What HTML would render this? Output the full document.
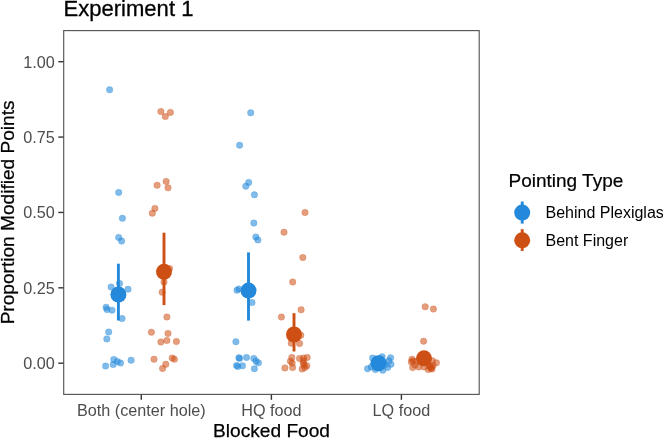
<!DOCTYPE html>
<html><head><meta charset="utf-8"><style>
html,body{margin:0;padding:0;background:#fff;}
svg{display:block;will-change:transform;}
text{font-family:"Liberation Sans",sans-serif;}
</style></head><body>
<svg width="663" height="438" viewBox="0 0 663 438">
<rect width="663" height="438" fill="#fff"/>

<text x="63.5" y="15.8" font-size="22.05" fill="#000" stroke="#000" stroke-width="0.3">Experiment 1</text>
<rect x="63.7" y="30.6" width="415.5" height="363.8" fill="none" stroke="#555" stroke-width="1.15"/>
<line x1="58.3" x2="63.4" y1="61.7" y2="61.7" stroke="#333" stroke-width="1.4"/>
<text x="54.7" y="67.5" font-size="16.2" fill="#4d4d4d" text-anchor="end">1.00</text>
<line x1="58.3" x2="63.4" y1="137.075" y2="137.075" stroke="#333" stroke-width="1.4"/>
<text x="54.7" y="142.875" font-size="16.2" fill="#4d4d4d" text-anchor="end">0.75</text>
<line x1="58.3" x2="63.4" y1="212.45" y2="212.45" stroke="#333" stroke-width="1.4"/>
<text x="54.7" y="218.25" font-size="16.2" fill="#4d4d4d" text-anchor="end">0.50</text>
<line x1="58.3" x2="63.4" y1="287.825" y2="287.825" stroke="#333" stroke-width="1.4"/>
<text x="54.7" y="293.625" font-size="16.2" fill="#4d4d4d" text-anchor="end">0.25</text>
<line x1="58.3" x2="63.4" y1="363.2" y2="363.2" stroke="#333" stroke-width="1.4"/>
<text x="54.7" y="369.0" font-size="16.2" fill="#4d4d4d" text-anchor="end">0.00</text>
<line x1="141.3" x2="141.3" y1="394.8" y2="399.8" stroke="#333" stroke-width="1.4"/>
<text x="141.3" y="415.5" font-size="16.2" fill="#4d4d4d" text-anchor="middle">Both (center hole)</text>
<line x1="271.4" x2="271.4" y1="394.8" y2="399.8" stroke="#333" stroke-width="1.4"/>
<text x="271.4" y="415.5" font-size="16.2" fill="#4d4d4d" text-anchor="middle">HQ food</text>
<line x1="401.4" x2="401.4" y1="394.8" y2="399.8" stroke="#333" stroke-width="1.4"/>
<text x="401.4" y="415.5" font-size="16.2" fill="#4d4d4d" text-anchor="middle">LQ food</text>
<text x="271.5" y="437.2" font-size="19.15" fill="#000" stroke="#000" stroke-width="0.25" text-anchor="middle">Blocked Food</text>
<text transform="translate(14.2,212.4) rotate(-90)" font-size="19.1" fill="#000" stroke="#000" stroke-width="0.25" text-anchor="middle">Proportion Modified Points</text>
<g fill="#2489DA" fill-opacity="0.58" stroke="#2489DA" stroke-opacity="0.3" stroke-width="0.8">
<circle cx="109.6" cy="89.7" r="3.25"/>
<circle cx="118.7" cy="192.4" r="3.25"/>
<circle cx="122.4" cy="218.3" r="3.25"/>
<circle cx="118.7" cy="237.4" r="3.25"/>
<circle cx="121.6" cy="241.1" r="3.25"/>
<circle cx="119.5" cy="283.4" r="3.25"/>
<circle cx="111.1" cy="287.1" r="3.25"/>
<circle cx="128.0" cy="289.3" r="3.25"/>
<circle cx="106.1" cy="307.3" r="3.25"/>
<circle cx="107.0" cy="309.5" r="3.25"/>
<circle cx="112.0" cy="310.2" r="3.25"/>
<circle cx="122.0" cy="318.6" r="3.25"/>
<circle cx="108.7" cy="332.1" r="3.25"/>
<circle cx="106.8" cy="338.9" r="3.25"/>
<circle cx="113.8" cy="359.4" r="3.25"/>
<circle cx="117.4" cy="361.6" r="3.25"/>
<circle cx="120.5" cy="363.0" r="3.25"/>
<circle cx="113.2" cy="364.5" r="3.25"/>
<circle cx="105.6" cy="366.1" r="3.25"/>
<circle cx="131.1" cy="360.3" r="3.25"/>
<circle cx="250.7" cy="112.8" r="3.25"/>
<circle cx="239.6" cy="145.2" r="3.25"/>
<circle cx="248.7" cy="182.4" r="3.25"/>
<circle cx="245.8" cy="186.2" r="3.25"/>
<circle cx="254.4" cy="194.8" r="3.25"/>
<circle cx="253.8" cy="223.1" r="3.25"/>
<circle cx="255.8" cy="237.1" r="3.25"/>
<circle cx="257.9" cy="239.9" r="3.25"/>
<circle cx="237.0" cy="290.2" r="3.25"/>
<circle cx="238.9" cy="288.9" r="3.25"/>
<circle cx="252.0" cy="302.6" r="3.25"/>
<circle cx="235.9" cy="341.8" r="3.25"/>
<circle cx="239.6" cy="358.4" r="3.25"/>
<circle cx="238.9" cy="357.7" r="3.25"/>
<circle cx="246.5" cy="357.4" r="3.25"/>
<circle cx="253.8" cy="358.4" r="3.25"/>
<circle cx="256.0" cy="361.2" r="3.25"/>
<circle cx="258.4" cy="362.8" r="3.25"/>
<circle cx="236.5" cy="365.4" r="3.25"/>
<circle cx="237.8" cy="366.5" r="3.25"/>
<circle cx="242.5" cy="365.8" r="3.25"/>
<circle cx="254.4" cy="368.7" r="3.25"/>
<circle cx="367.5" cy="368.7" r="3.25"/>
<circle cx="372.6" cy="358.1" r="3.25"/>
<circle cx="382.1" cy="356.7" r="3.25"/>
<circle cx="390.6" cy="357.8" r="3.25"/>
<circle cx="388.9" cy="360.8" r="3.25"/>
<circle cx="391.0" cy="364.2" r="3.25"/>
<circle cx="387.6" cy="367.6" r="3.25"/>
<circle cx="382.8" cy="370.3" r="3.25"/>
<circle cx="375.4" cy="369.6" r="3.25"/>
<circle cx="371.3" cy="366.9" r="3.25"/>
<circle cx="376" cy="360" r="3.25"/>
<circle cx="380" cy="365" r="3.25"/>
<circle cx="378" cy="362" r="3.25"/>
<circle cx="384" cy="362" r="3.25"/>
<circle cx="374" cy="364" r="3.25"/>
<circle cx="381" cy="359" r="3.25"/>
<circle cx="377" cy="367" r="3.25"/>
<circle cx="385" cy="365" r="3.25"/>
</g>
<g fill="#CE4F14" fill-opacity="0.55" stroke="#CE4F14" stroke-opacity="0.3" stroke-width="0.8">
<circle cx="160.9" cy="111.6" r="3.25"/>
<circle cx="165.3" cy="116.6" r="3.25"/>
<circle cx="170.4" cy="112.4" r="3.25"/>
<circle cx="157.1" cy="185.3" r="3.25"/>
<circle cx="166.2" cy="181.4" r="3.25"/>
<circle cx="168.0" cy="187.8" r="3.25"/>
<circle cx="154.9" cy="208.4" r="3.25"/>
<circle cx="152.3" cy="213.2" r="3.25"/>
<circle cx="169.5" cy="268.5" r="3.25"/>
<circle cx="164" cy="282" r="3.25"/>
<circle cx="162.2" cy="292.2" r="3.25"/>
<circle cx="166.9" cy="317.0" r="3.25"/>
<circle cx="151.4" cy="332.3" r="3.25"/>
<circle cx="168.0" cy="333.4" r="3.25"/>
<circle cx="166.9" cy="340.5" r="3.25"/>
<circle cx="160.9" cy="342.0" r="3.25"/>
<circle cx="176.4" cy="341.6" r="3.25"/>
<circle cx="154.0" cy="359.2" r="3.25"/>
<circle cx="172.2" cy="358.1" r="3.25"/>
<circle cx="174.4" cy="359.2" r="3.25"/>
<circle cx="165.8" cy="364.3" r="3.25"/>
<circle cx="162.6" cy="368.5" r="3.25"/>
<circle cx="305.0" cy="212.5" r="3.25"/>
<circle cx="284.0" cy="232.2" r="3.25"/>
<circle cx="302.8" cy="257.5" r="3.25"/>
<circle cx="292.7" cy="282.0" r="3.25"/>
<circle cx="301.1" cy="309.8" r="3.25"/>
<circle cx="281.4" cy="317.1" r="3.25"/>
<circle cx="300.8" cy="335.3" r="3.25"/>
<circle cx="299.5" cy="343.5" r="3.25"/>
<circle cx="291.3" cy="343.2" r="3.25"/>
<circle cx="303.6" cy="360.8" r="3.25"/>
<circle cx="304" cy="365" r="3.25"/>
<circle cx="291.8" cy="357.5" r="3.25"/>
<circle cx="299.5" cy="358.4" r="3.25"/>
<circle cx="303.5" cy="358.1" r="3.25"/>
<circle cx="307.2" cy="357.4" r="3.25"/>
<circle cx="290.4" cy="361.2" r="3.25"/>
<circle cx="292.2" cy="363" r="3.25"/>
<circle cx="303.2" cy="363.0" r="3.25"/>
<circle cx="306.8" cy="365.8" r="3.25"/>
<circle cx="284.9" cy="367.9" r="3.25"/>
<circle cx="292.6" cy="367.6" r="3.25"/>
<circle cx="302.2" cy="369.0" r="3.25"/>
<circle cx="305" cy="367.6" r="3.25"/>
<circle cx="425.2" cy="306.8" r="3.25"/>
<circle cx="433.4" cy="309.1" r="3.25"/>
<circle cx="423.6" cy="341.2" r="3.25"/>
<circle cx="412.0" cy="359.2" r="3.25"/>
<circle cx="411.3" cy="362.1" r="3.25"/>
<circle cx="412.7" cy="367.6" r="3.25"/>
<circle cx="416.1" cy="361.5" r="3.25"/>
<circle cx="418.8" cy="366.9" r="3.25"/>
<circle cx="424.2" cy="366.9" r="3.25"/>
<circle cx="431.0" cy="368.3" r="3.25"/>
<circle cx="433.0" cy="365.5" r="3.25"/>
<circle cx="436.4" cy="362.8" r="3.25"/>
<circle cx="432.4" cy="360.8" r="3.25"/>
<circle cx="428.3" cy="369.6" r="3.25"/>
<circle cx="421" cy="362" r="3.25"/>
<circle cx="427" cy="363" r="3.25"/>
<circle cx="415" cy="365" r="3.25"/>
<circle cx="430" cy="366" r="3.25"/>
<circle cx="431.5" cy="367.5" r="3.25"/>
<circle cx="429.5" cy="366.5" r="3.25"/>
<circle cx="413" cy="361" r="3.25"/>
<circle cx="432" cy="369" r="3.25"/>
</g>
<line x1="118.4" x2="118.4" y1="263.7" y2="320.5" stroke="#2489DA" stroke-width="2.9"/>
<circle cx="118.4" cy="294.5" r="8" fill="#2489DA"/>
<line x1="164.0" x2="164.0" y1="232.7" y2="305.1" stroke="#CE4F14" stroke-width="2.9"/>
<circle cx="164.0" cy="271.8" r="8" fill="#CE4F14"/>
<line x1="248.5" x2="248.5" y1="252.4" y2="320.6" stroke="#2489DA" stroke-width="2.9"/>
<circle cx="248.5" cy="290.6" r="8" fill="#2489DA"/>
<line x1="294.0" x2="294.0" y1="313.2" y2="351.5" stroke="#CE4F14" stroke-width="2.9"/>
<circle cx="294.0" cy="334.5" r="8" fill="#CE4F14"/>
<line x1="378.4" x2="378.4" y1="360" y2="366" stroke="#2489DA" stroke-width="2.9"/>
<circle cx="378.4" cy="363.3" r="8" fill="#2489DA"/>
<line x1="424.0" x2="424.0" y1="354" y2="362" stroke="#CE4F14" stroke-width="2.9"/>
<circle cx="424.0" cy="358.3" r="8" fill="#CE4F14"/>
<text x="508.5" y="187" font-size="19" fill="#000" stroke="#000" stroke-width="0.2">Pointing Type</text>
<line x1="522.2" x2="522.2" y1="201.5" y2="223.6" stroke="#2489DA" stroke-width="2.9"/>
<circle cx="522.2" cy="212.6" r="8" fill="#2489DA"/>
<line x1="522.2" x2="522.2" y1="229.2" y2="250.9" stroke="#CE4F14" stroke-width="2.9"/>
<circle cx="522.2" cy="240.3" r="8" fill="#CE4F14"/>
<text x="545.5" y="217.6" font-size="16" fill="#000">Behind Plexiglas</text>
<text x="545.5" y="245.6" font-size="16" fill="#000">Bent Finger</text>
</svg></body></html>
